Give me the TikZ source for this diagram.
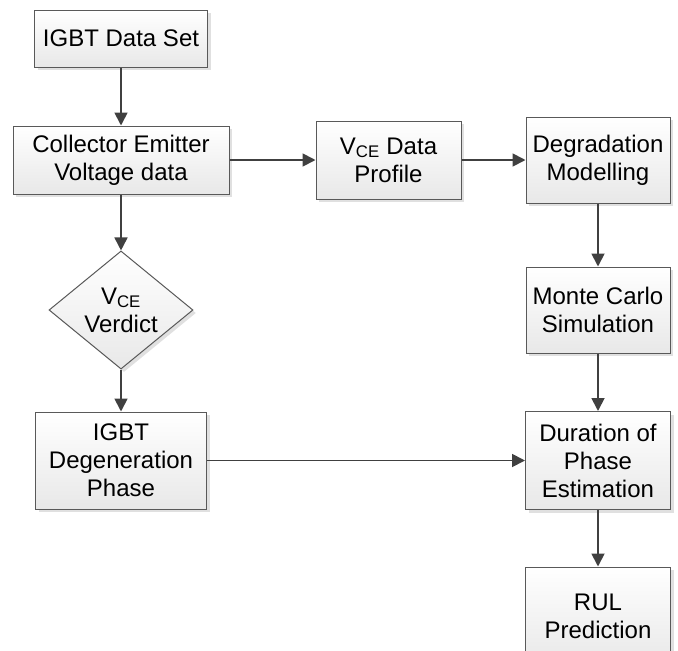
\documentclass[tikz,border=0pt]{standalone}
\usepackage{fontspec}
\setmainfont{Liberation Sans}
\usetikzlibrary{
  arrows.meta,
  shapes,
  shadows
}

\begin{document}
\begin{tikzpicture}[
  x=1pt, y=-1pt,
  every node/.style = {font=\fontsize{24}{28}\selectfont, align=center},
  block/.style = {shape=rectangle, draw=black!65, line width=1pt,
    inner sep=0pt, top color=white, bottom color=black!9,
    drop shadow={shadow xshift=3pt, shadow yshift=-3pt,
      fill=black!12, opacity=1}},
  decision/.style = {shape=diamond, draw=black!65, line width=1pt,
    inner sep=0pt, minimum width=144pt, minimum height=92pt,
    top color=white, bottom color=black!9,
    drop shadow={shadow xshift=3pt, shadow yshift=-3pt,
      fill=black!12, opacity=1}}]
    \tikzstyle{flow}=[draw=black!75, line width=1.8pt,
      -{Triangle[length=13pt,width=13pt]}]
  \useasboundingbox (0,0) rectangle (678,651);
  % left column
  \node[block, minimum width=173pt, minimum height=57pt] (ds) at (121,38.5)
    {IGBT Data Set};
  \node[block, minimum width=216pt, minimum height=68pt] (cev) at (121,160)
    {Collector Emitter\\Voltage data};
  \node[decision] (vv) at (121,310) {V\textsubscript{CE}\\Verdict};
  \node[block, minimum width=171pt, minimum height=97pt] (dp) at (121,460.5)
    {IGBT\\Degeneration\\Phase};
  % middle and right column
  \node[block, minimum width=145pt, minimum height=78pt] (vdp) at (388.5,160)
    {V\textsubscript{CE} Data\\Profile};
  \node[block, minimum width=144pt, minimum height=86pt] (dm) at (598,160)
    {Degradation\\Modelling};
  \node[block, minimum width=144pt, minimum height=86pt] (mc) at (598,310)
    {Monte Carlo\\Simulation};
  \node[block, minimum width=145pt, minimum height=98pt] (dpe) at (598,460.5)
    {Duration of\\Phase\\Estimation};
  \node[block, minimum width=145pt, minimum height=98pt] (rul) at (598,616)
    {RUL\\Prediction};
  % connectors
  \draw[flow] (ds) -- (cev);
  \draw[flow] (cev) -- (vdp);
  \draw[flow] (vdp) -- (dm);
  \draw[flow] (cev) -- (vv);
  \draw[flow] (vv) -- (dp);
  \draw[flow] (dm) -- (mc);
  \draw[flow] (mc) -- (dpe);
  \draw[flow] (dp) -- (dpe);
  \draw[flow] (dpe) -- (rul);
\end{tikzpicture}
\end{document}
